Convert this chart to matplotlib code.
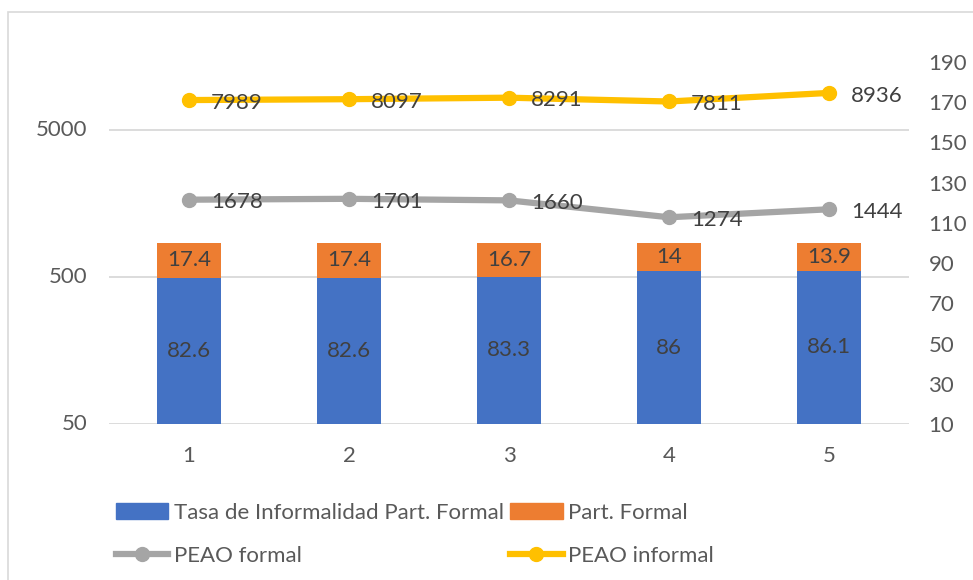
import matplotlib.pyplot as plt
from matplotlib.lines import Line2D
from matplotlib.patches import Patch, Rectangle
from matplotlib.transforms import blended_transform_factory

plt.rcParams['font.family'] = ['Lato', 'DejaVu Sans']

# data
periods = [1, 2, 3, 4, 5]
tasa_inf = [82.6, 82.6, 83.3, 86, 86.1]
part_formal = [17.4, 17.4, 16.7, 14, 13.9]
peao_formal = [1678, 1701, 1660, 1274, 1444]
peao_informal = [7989, 8097, 8291, 7811, 8936]
left_ticks = [50, 500, 5000]

blue = '#4472C4'
orange = '#ED7D31'
gray = '#A5A5A5'
yellow = '#FFC000'
tick_col = '#595959'
lab_col = '#404040'
fs = 16

fig = plt.figure(figsize=(9.73, 5.8), dpi=100)
fig.patches.append(Rectangle((8 / 973, -0.1), 1.2, (580 - 12) / 580 + 0.1,
                             transform=fig.transFigure, fill=False,
                             edgecolor='#d9d9d9', linewidth=1.2))

rect = [109 / 973, 1 - 424 / 580, 800 / 973, (424 - 62) / 580]

# left log axis with grid
ax = fig.add_axes(rect)
ax.set_yscale('log')
ax.set_ylim(50, 14500)
ax.set_xlim(0.5, 5.5)
for v in left_ticks:
    ax.axhline(v, color='#d9d9d9', linewidth=1.3, zorder=0)
for s in ax.spines.values():
    s.set_visible(False)
ax.set_xticks(periods)
ax.set_yticks([])
ax.minorticks_off()
ax.tick_params(axis='x', length=0, labelsize=fs, labelcolor=tick_col, pad=16)
trans = blended_transform_factory(ax.transAxes, ax.transData)
for v in left_ticks:
    ax.text(-0.027, v, str(v), transform=trans, ha='right', va='center',
            fontsize=fs, color=tick_col)

# right linear axis with stacked bars
ax2 = ax.twinx()
ax2.set_ylim(10, 190)
ax2.set_yticks(range(10, 191, 20))
ax2.tick_params(axis='y', length=0, labelsize=fs, labelcolor=tick_col, pad=14)
for s in ax2.spines.values():
    s.set_visible(False)
ax2.bar(periods, tasa_inf, width=0.4, color=blue, bottom=0)
ax2.bar(periods, part_formal, width=0.4, color=orange, bottom=tasa_inf)
for x, a, b in zip(periods, tasa_inf, part_formal):
    ax2.text(x, 10 + (a - 10) / 2, f'{a:g}', ha='center', va='center',
             fontsize=fs, color=lab_col)
    ax2.text(x, a + b / 2, f'{b:g}', ha='center', va='center',
             fontsize=fs, color=lab_col)

# lines on top, log scale
ax3 = ax.twinx()
ax3.set_yscale('log')
ax3.set_ylim(50, 14500)
ax3.axis('off')
ax3.plot(periods, peao_formal, color=gray, linewidth=4.5, marker='o',
         markersize=10, solid_capstyle='round')
ax3.plot(periods, peao_informal, color=yellow, linewidth=4.5, marker='o',
         markersize=10, solid_capstyle='round')
for x, v in zip(periods, peao_formal):
    ax3.annotate(f'{v}', (x, v), xytext=(16, -2), textcoords='offset points',
                 ha='left', va='center', fontsize=fs, color=lab_col)
for x, v in zip(periods, peao_informal):
    ax3.annotate(f'{v}', (x, v), xytext=(16, -2), textcoords='offset points',
                 ha='left', va='center', fontsize=fs, color=lab_col)

handles = [
    Patch(color=blue),
    Line2D([], [], color=gray, linewidth=4.5, marker='o', markersize=10),
    Patch(color=orange),
    Line2D([], [], color=yellow, linewidth=4.5, marker='o', markersize=10),
]
labels = ['Tasa de Informalidad Part. Formal', 'PEAO formal',
          'Part. Formal', 'PEAO informal']
fig.legend(handles, labels, ncol=2, loc='upper left',
           bbox_to_anchor=(107 / 973, 1 - 494 / 580), frameon=False,
           fontsize=fs, labelcolor=tick_col, handlelength=2.35,
           handletextpad=0.25, columnspacing=0.3, labelspacing=1.05,
           borderaxespad=0)

fig.savefig('out.png', dpi=100)
